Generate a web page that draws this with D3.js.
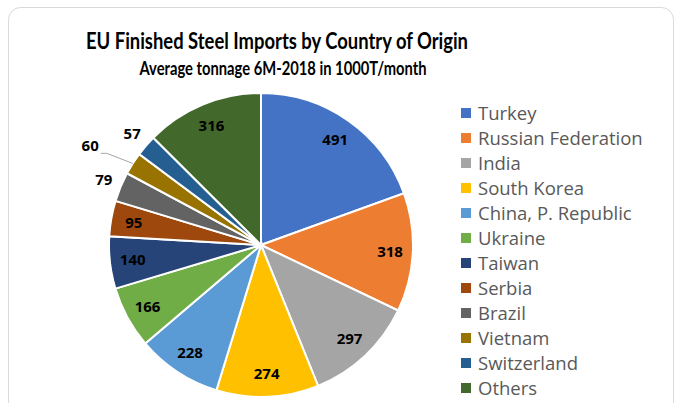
<!DOCTYPE html>
<html>
<head>
<meta charset="utf-8">
<script src="https://cdn.jsdelivr.net/npm/d3@7"></script>
<style>
  body { margin: 0; background: #fff; }
</style>
</head>
<body>
<div id="chart"></div>
<script>
const countries = ["Turkey", "Russian Federation", "India", "South Korea", "China, P. Republic",
  "Ukraine", "Taiwan", "Serbia", "Brazil", "Vietnam", "Switzerland", "Others"];
const tonnage = [491, 318, 297, 274, 228, 166, 140, 95, 79, 60, 57, 316];
const colors = ["#4472C4", "#ED7D31", "#A5A5A5", "#FFC000", "#5B9BD5", "#70AD47",
  "#264478", "#9E480E", "#636363", "#997300", "#255E91", "#43682B"];
const leaderLabels = ["Vietnam"]; // pushed further out with a line

const width = 678, height = 403;
const cx = 261, cy = 245, radius = 152;

const svg = d3.select("#chart").append("svg")
  .attr("width", width)
  .attr("height", height);

// chart frame, bottom runs off the picture
svg.append("rect")
  .attr("x", 8.5).attr("y", 7.5)
  .attr("width", 665).attr("height", 420)
  .attr("rx", 12)
  .attr("fill", "#fff")
  .attr("stroke", "#d9d9d9");

svg.append("text")
  .attr("x", 277).attr("y", 49)
  .attr("text-anchor", "middle")
  .attr("font-family", "Lato, sans-serif")
  .attr("font-weight", "bold")
  .attr("font-size", 23)
  .attr("textLength", 382)
  .attr("lengthAdjust", "spacingAndGlyphs")
  .attr("fill", "#000")
  .text("EU Finished Steel Imports by Country of Origin");

svg.append("text")
  .attr("x", 283).attr("y", 75)
  .attr("text-anchor", "middle")
  .attr("font-family", "Lato, sans-serif")
  .attr("font-weight", "bold")
  .attr("font-size", 18.5)
  .attr("textLength", 287)
  .attr("lengthAdjust", "spacingAndGlyphs")
  .attr("fill", "#000")
  .text("Average tonnage 6M-2018 in 1000T/month");

const data = countries.map((c, i) => ({ country: c, value: tonnage[i] }));
const total = d3.sum(tonnage);

const pie = d3.pie().value(d => d.value).sort(null);
const arc = d3.arc().innerRadius(0).outerRadius(radius);
const arcs = pie(data);

const g = svg.append("g").attr("transform", `translate(${cx}, ${cy})`);

g.selectAll("path.slice")
  .data(arcs)
  .enter()
  .append("path")
  .attr("class", "slice")
  .attr("d", arc)
  .attr("fill", (d, i) => colors[i])
  .attr("stroke", "#fff")
  .attr("stroke-width", 2);

const polar = (angle, r) => [Math.sin(angle) * r, -Math.cos(angle) * r];

// label placement: inside for big slices, outside for small ones
arcs.forEach(d => {
  const mid = (d.startAngle + d.endAngle) / 2;
  const share = d.data.value / total;
  let r = radius * 0.85;
  if (share < 0.035) r = radius * 1.12;
  if (leaderLabels.includes(d.data.country)) {
    r = radius * 1.3;
    const a = polar(mid, radius * 1.0);
    const b = polar(mid - 0.03, radius * 1.18);
    g.append("polyline")
      .attr("points", [a, b, [b[0] - 6, b[1]]].map(p => p.join(",")).join(" "))
      .attr("fill", "none")
      .attr("stroke", "#a6a6a6")
      .attr("stroke-width", 1);
    d.labelPos = polar(mid - 0.04, r);
  } else {
    d.labelPos = polar(mid, r);
  }
});

g.selectAll("text.value")
  .data(arcs)
  .enter()
  .append("text")
  .attr("class", "value")
  .attr("x", d => d.labelPos[0])
  .attr("y", d => d.labelPos[1])
  .attr("dy", "0.35em")
  .attr("text-anchor", "middle")
  .attr("font-family", "'Open Sans', sans-serif")
  .attr("font-weight", "bold")
  .attr("font-size", 15)
  .attr("fill", "#000")
  .text(d => d.data.value);

// legend
const legend = svg.append("g").attr("transform", "translate(461, 113)");
const row = legend.selectAll("g")
  .data(countries)
  .enter()
  .append("g")
  .attr("transform", (d, i) => `translate(0, ${i * 25})`);

row.append("rect")
  .attr("x", 0).attr("y", -5)
  .attr("width", 10).attr("height", 10)
  .attr("fill", (d, i) => colors[i]);

row.append("text")
  .attr("x", 17).attr("y", 0)
  .attr("dy", "0.36em")
  .attr("font-family", "'Open Sans', sans-serif")
  .attr("font-size", 18.5)
  .attr("fill", "#595959")
  .text(d => d);
</script>
</body>
</html>
